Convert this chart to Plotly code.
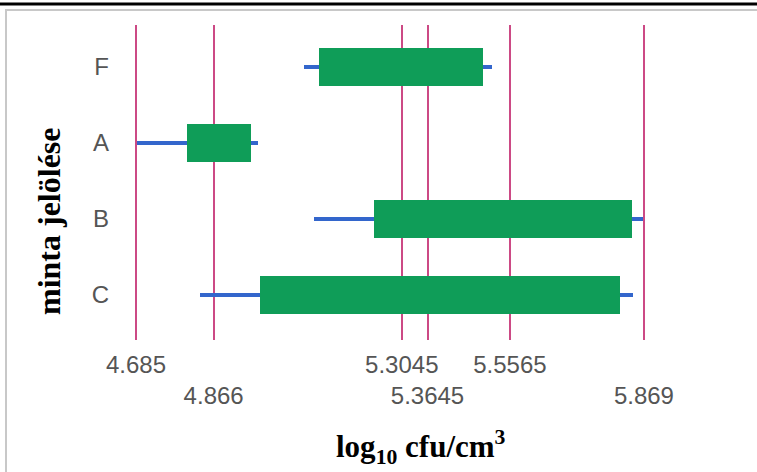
import plotly.graph_objects as go

# ---- data ----
samples = ["C", "B", "A", "F"]            # bottom to top
whisker_low = [4.834, 5.100, 4.687, 5.077]
box_low = [4.974, 5.240, 4.804, 5.112]
box_high = [5.813, 5.841, 4.953, 5.494]
whisker_high = [5.844, 5.867, 4.969, 5.515]

tick_values = [4.685, 4.866, 5.3045, 5.3645, 5.5565, 5.869]
tick_labels = ["4.685", "4.866", "5.3045", "5.3645", "5.5565", "5.869"]
tick_rows = [0, 1, 0, 1, 0, 1]

# ---- layout geometry (pixels) ----
W, H = 757, 472
L, R, T, B = 118, 67, 25, 132
PW, PH = W - L - R, H - T - B


def px(x):
    return (x - L) / PW


def py(y):
    return (H - B - y) / PH


GREEN = "#0f9d58"
BLUE = "#3366cc"
PINK = "#cc4a85"
TICKFONT = dict(family="Liberation Sans, Arial", size=24, color="#555555")

fig = go.Figure()

# whiskers (thin bars)
fig.add_trace(go.Bar(
    y=samples,
    x=[h - l for l, h in zip(whisker_low, whisker_high)],
    base=whisker_low,
    orientation="h",
    width=0.05,
    marker=dict(color=BLUE, line=dict(width=0)),
    showlegend=False,
    hoverinfo="skip",
))
# boxes
fig.add_trace(go.Bar(
    y=samples,
    x=[h - l for l, h in zip(box_low, box_high)],
    base=box_low,
    orientation="h",
    width=0.5,
    marker=dict(color=GREEN, line=dict(width=0)),
    showlegend=False,
))

ticktext = [("<br>" if r else "") + t for t, r in zip(tick_labels, tick_rows)]

fig.update_layout(
    width=W, height=H,
    margin=dict(l=L, r=R, t=T, b=B, pad=0, autoexpand=False),
    paper_bgcolor="white", plot_bgcolor="white",
    barmode="overlay",
    bargap=0,
    xaxis=dict(
        range=[4.685 - 18 / 429, 4.685 + (W - R - 136) / 429],
        tickvals=tick_values, ticktext=ticktext, tickangle=0,
        showgrid=True, gridcolor=PINK, gridwidth=2,
        zeroline=False, showline=False, ticks="",
        tickfont=TICKFONT, ticklabelstandoff=8,
        automargin=False, fixedrange=True,
    ),
    yaxis=dict(
        type="category", categoryorder="array", categoryarray=samples,
        range=[-0.592, 3.553],
        showgrid=False, zeroline=False, showline=False, ticks="",
        tickfont=TICKFONT, ticklabelstandoff=8,
        automargin=False, fixedrange=True,
    ),
    shapes=[
        dict(type="rect", xref="paper", yref="paper",
             x0=px(6), x1=px(W + 20), y0=py(10), y1=py(H + 20),
             line=dict(color="#c8c8c8", width=2), fillcolor="rgba(0,0,0,0)", layer="below"),
        dict(type="rect", xref="paper", yref="paper",
             x0=px(-5), x1=px(W + 5), y0=py(2.5), y1=py(5.5),
             line=dict(width=0), fillcolor="black", layer="above"),
    ],
    annotations=[
        dict(text="<b>minta jelölése</b>", xref="paper", yref="paper",
             x=px(49), y=py(221), xanchor="center", yanchor="middle",
             textangle=-90, showarrow=False,
             font=dict(family="Liberation Serif, Times New Roman", size=32, color="black")),
        dict(text="<b>log<sub>10</sub> cfu/cm<sup>3</sup></b>", xref="paper", yref="paper",
             x=px(421), y=py(447), xanchor="center", yanchor="middle",
             showarrow=False,
             font=dict(family="Liberation Serif, Times New Roman", size=31, color="black")),
    ],
)

fig.write_html(
    "out.html",
    config={"displayModeBar": False},
    post_script="document.body.style.margin='0';document.body.style.padding='0';",
)
